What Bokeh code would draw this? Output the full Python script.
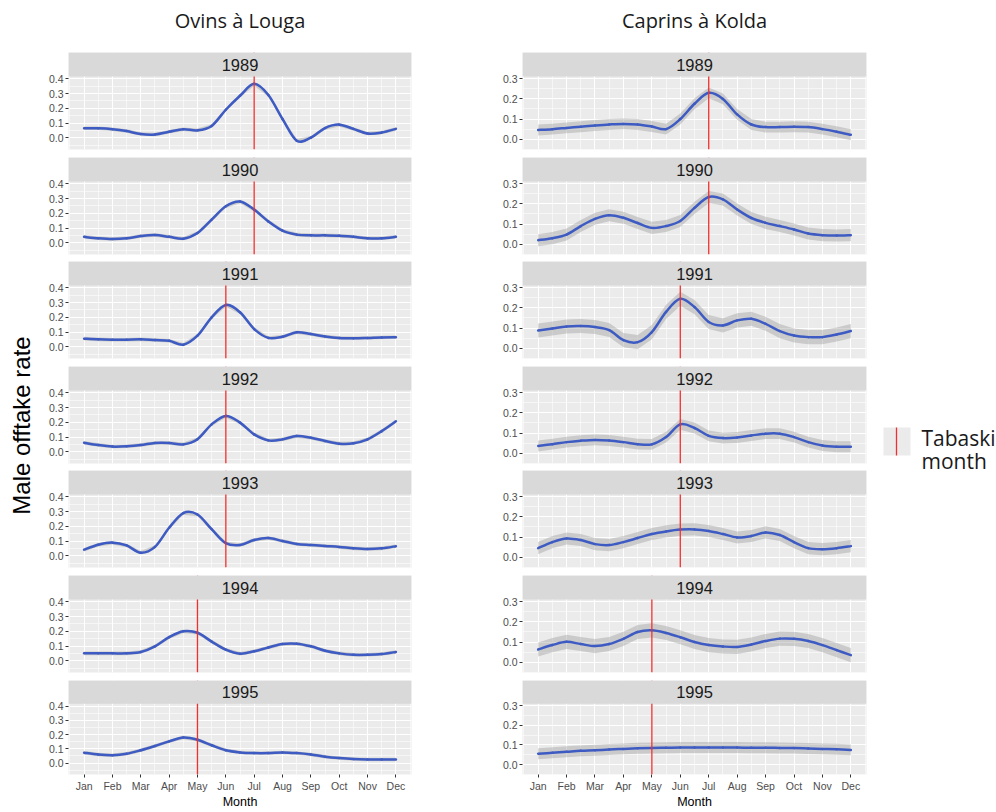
import math
from bokeh.plotting import figure
from bokeh.layouts import row, column
from bokeh.models import Range1d, FixedTicker, PrintfTickFormatter, Span, BoxAnnotation, Label
from bokeh.embed import file_html
from bokeh.resources import INLINE
from bokeh.core.properties import value

# ---------------- data ----------------
months_x = [1, 1.5, 2, 2.5, 3, 3.5, 4, 4.5, 5, 5.5, 6, 6.5, 7, 7.5, 8, 8.5, 9, 9.5, 10, 10.5, 11, 11.5, 12]
month_ticks = [1, 2, 3, 4, 5, 6, 7, 8, 9, 10, 11, 12]
month_labels = ["Jan", "Feb", "Mar", "Apr", "May", "Jun", "Jul", "Aug", "Sep", "Oct", "Nov", "Dec"]
years = ["1989", "1990", "1991", "1992", "1993", "1994", "1995"]
tabaski_month = [7, 7, 6, 6, 6, 5, 5]

louga_1989 = [0.065, 0.064, 0.058, 0.045, 0.025, 0.022, 0.040, 0.058, 0.050, 0.080, 0.190, 0.285, 0.366, 0.290, 0.127, -0.020, 0.000, 0.066, 0.089, 0.060, 0.028, 0.035, 0.060]
louga_1990 = [0.040, 0.030, 0.025, 0.030, 0.045, 0.052, 0.040, 0.027, 0.066, 0.157, 0.248, 0.280, 0.225, 0.145, 0.082, 0.055, 0.050, 0.050, 0.048, 0.040, 0.030, 0.030, 0.040]
louga_1991 = [0.055, 0.050, 0.048, 0.048, 0.050, 0.045, 0.040, 0.014, 0.075, 0.200, 0.284, 0.234, 0.120, 0.060, 0.068, 0.098, 0.086, 0.070, 0.060, 0.058, 0.060, 0.063, 0.064]
louga_1992 = [0.061, 0.045, 0.035, 0.037, 0.045, 0.060, 0.060, 0.050, 0.085, 0.186, 0.243, 0.198, 0.118, 0.077, 0.084, 0.107, 0.095, 0.073, 0.055, 0.057, 0.084, 0.140, 0.207]
louga_1993 = [0.041, 0.075, 0.089, 0.070, 0.020, 0.060, 0.190, 0.290, 0.280, 0.180, 0.085, 0.073, 0.107, 0.120, 0.100, 0.080, 0.073, 0.066, 0.060, 0.050, 0.045, 0.050, 0.065]
louga_1994 = [0.050, 0.050, 0.050, 0.050, 0.059, 0.098, 0.160, 0.200, 0.190, 0.130, 0.075, 0.048, 0.064, 0.090, 0.114, 0.116, 0.098, 0.068, 0.050, 0.040, 0.040, 0.045, 0.060]
louga_1995 = [0.073, 0.060, 0.055, 0.065, 0.090, 0.120, 0.152, 0.180, 0.164, 0.125, 0.090, 0.075, 0.070, 0.070, 0.075, 0.070, 0.060, 0.045, 0.035, 0.028, 0.025, 0.025, 0.025]

kolda_1989 = [0.046, 0.050, 0.056, 0.062, 0.068, 0.073, 0.076, 0.073, 0.063, 0.050, 0.100, 0.176, 0.230, 0.200, 0.123, 0.073, 0.060, 0.060, 0.062, 0.060, 0.050, 0.037, 0.022]
kolda_1990 = [0.020, 0.030, 0.048, 0.090, 0.126, 0.144, 0.131, 0.105, 0.081, 0.090, 0.115, 0.180, 0.234, 0.222, 0.172, 0.130, 0.106, 0.090, 0.073, 0.053, 0.045, 0.043, 0.045]
kolda_1991 = [0.088, 0.098, 0.108, 0.110, 0.105, 0.090, 0.040, 0.030, 0.080, 0.180, 0.245, 0.204, 0.130, 0.113, 0.138, 0.146, 0.121, 0.085, 0.063, 0.055, 0.055, 0.068, 0.085]
kolda_1992 = [0.036, 0.045, 0.055, 0.062, 0.066, 0.063, 0.055, 0.045, 0.044, 0.080, 0.143, 0.125, 0.086, 0.075, 0.078, 0.088, 0.097, 0.097, 0.080, 0.055, 0.038, 0.032, 0.032]
kolda_1993 = [0.045, 0.075, 0.093, 0.085, 0.065, 0.060, 0.075, 0.095, 0.115, 0.128, 0.137, 0.138, 0.130, 0.115, 0.098, 0.105, 0.123, 0.110, 0.075, 0.045, 0.040, 0.045, 0.055]
kolda_1994 = [0.063, 0.085, 0.101, 0.090, 0.080, 0.090, 0.116, 0.150, 0.158, 0.145, 0.124, 0.100, 0.085, 0.078, 0.076, 0.088, 0.105, 0.117, 0.116, 0.105, 0.085, 0.060, 0.035]
kolda_1995 = [0.055, 0.060, 0.065, 0.070, 0.073, 0.077, 0.080, 0.083, 0.085, 0.086, 0.087, 0.087, 0.087, 0.087, 0.087, 0.086, 0.086, 0.085, 0.084, 0.082, 0.080, 0.078, 0.075]

louga_band = [0.012, 0.012, 0.012, 0.012, 0.012, 0.012, 0.012]
kolda_band = [0.027, 0.030, 0.035, 0.027, 0.030, 0.035, 0.028]

louga_series = [louga_1989, louga_1990, louga_1991, louga_1992, louga_1993, louga_1994, louga_1995]
kolda_series = [kolda_1989, kolda_1990, kolda_1991, kolda_1992, kolda_1993, kolda_1994, kolda_1995]

louga_yticks = [0.0, 0.1, 0.2, 0.3, 0.4]
louga_yminor = [-0.05, 0.05, 0.15, 0.25, 0.35]
kolda_yticks = [0.0, 0.1, 0.2, 0.3]
kolda_yminor = [-0.05, 0.05, 0.15, 0.25]

# ---------------- style / layout ----------------
PANEL_BG = "#EBEBEB"
STRIP_BG = "#D9D9D9"
LINE_C = "#3D5BC2"
RED = "#F0302E"
TICK_FONT = "10.5px"
FONT = "Liberation Sans"
FRAME_H = 73
STRIP_H = 24
TOP0 = 52
PERIOD = 104.6
tops = [round(TOP0 + i * PERIOD) for i in range(7)]
BOTTOM_H = 34


def base_fig(w, h, xr, yr, ml, mr, mt, mb, bg):
    p = figure(width=w, height=h, x_range=xr, y_range=yr, output_backend="svg",
               toolbar_location=None, min_border_left=ml, min_border_right=mr,
               min_border_top=mt, min_border_bottom=mb,
               background_fill_color=bg, border_fill_color="white",
               outline_line_color=None, x_axis_location=None, y_axis_location=None)
    p.grid.visible = False
    return p


def title_fig(text, w, ml, mr, h):
    p = base_fig(w, h, Range1d(0, 1), Range1d(0, 1), ml, mr, 0, 0, "white")
    p.text(x=[0.5], y=[1 - 20.0 / h], text=[text], text_align="center", text_baseline="middle",
           text_font=value("Open Sans"), text_font_size="20px", text_color="#1A1A1A")
    return p


def smooth_segments(xs, ys):
    # Catmull-Rom curve through the read points, drawn as cubic Bezier pieces
    n = len(xs)
    x0, y0, x1, y1, cx0, cy0, cx1, cy1 = [], [], [], [], [], [], [], []
    for i in range(n - 1):
        xm, ym = (xs[i - 1], ys[i - 1]) if i > 0 else (xs[i], ys[i])
        xp, yp = (xs[i + 2], ys[i + 2]) if i + 2 < n else (xs[i + 1], ys[i + 1])
        x0.append(xs[i]); y0.append(ys[i]); x1.append(xs[i + 1]); y1.append(ys[i + 1])
        cx0.append(xs[i] + (xs[i + 1] - xm) / 6.0); cy0.append(ys[i] + (ys[i + 1] - ym) / 6.0)
        cx1.append(xs[i + 1] - (xp - xs[i]) / 6.0); cy1.append(ys[i + 1] - (yp - ys[i]) / 6.0)
    return dict(x0=x0, y0=y0, x1=x1, y1=y1, cx0=cx0, cy0=cy0, cx1=cx1, cy1=cy1)


def panel_fig(year, vals, band, tab, yr, yticks, yminor, w, ml, mr, h, bottom):
    y0, y1 = yr
    ytop = y1 + (y1 - y0) * STRIP_H / FRAME_H   # strip sits on top of the data frame
    mb = h - FRAME_H - STRIP_H
    p = figure(width=w, height=h, x_range=Range1d(0.45, 12.55), y_range=Range1d(y0, ytop),
               output_backend="svg", toolbar_location=None,
               min_border_left=ml, min_border_right=mr, min_border_top=0, min_border_bottom=mb,
               background_fill_color=PANEL_BG, border_fill_color="white", outline_line_color=None,
               x_axis_location=("below" if bottom else None))
    p.xgrid.ticker = FixedTicker(ticks=month_ticks, minor_ticks=[m + 0.5 for m in [0] + month_ticks])
    p.ygrid.ticker = FixedTicker(ticks=yticks, minor_ticks=yminor)
    for g in (p.xgrid, p.ygrid):
        g.grid_line_color = "white"
        g.grid_line_width = 1.1
        g.minor_grid_line_color = "white"
        g.minor_grid_line_width = 0.55
    ya = p.yaxis[0]
    ya.ticker = FixedTicker(ticks=yticks, minor_ticks=[])
    ya.formatter = PrintfTickFormatter(format="%.1f")
    ya.axis_line_color = None
    ya.major_tick_line_color = "#333333"
    ya.major_tick_out = 3
    ya.major_tick_in = 0
    ya.minor_tick_line_color = None
    ya.major_label_text_font_size = TICK_FONT
    ya.major_label_text_color = "#4D4D4D"
    ya.major_label_text_font = FONT
    ya.major_label_standoff = 2
    if bottom:
        xa = p.xaxis[0]
        xa.ticker = FixedTicker(ticks=month_ticks, minor_ticks=[])
        xa.major_label_overrides = {m: lab for m, lab in zip(month_ticks, month_labels)}
        xa.axis_line_color = None
        xa.major_tick_line_color = "#333333"
        xa.major_tick_out = 3
        xa.major_tick_in = 0
        xa.minor_tick_line_color = None
        xa.major_label_text_font_size = TICK_FONT
        xa.major_label_text_color = "#4D4D4D"
        xa.major_label_text_font = FONT
        xa.major_label_standoff = 2
        xa.axis_label = "Month"
        xa.axis_label_text_font = FONT
        xa.axis_label_text_font_size = "12.5px"
        xa.axis_label_text_font_style = "normal"
        xa.axis_label_text_color = "#000000"
        xa.axis_label_standoff = 0
    lower = [v - band for v in vals]
    upper = [v + band for v in vals]
    p.varea(x=months_x, y1=lower, y2=upper, fill_color="#999999", fill_alpha=0.4)
    p.bezier(line_color=LINE_C, line_width=2.5, line_cap="round", **smooth_segments(months_x, vals))
    p.add_layout(Span(location=tab, dimension="height", line_color=RED, line_width=1.3))
    # facet strip
    p.add_layout(BoxAnnotation(bottom=y1, fill_color=STRIP_BG, fill_alpha=1.0, line_color=None))
    p.add_layout(Label(x=6.5, y=(y1 + ytop) / 2, text=year, text_align="center",
                       text_baseline="middle", text_font=FONT, text_font_size="16.5px",
                       text_color="#1A1A1A"))
    return p


def build_column(title, series, bands, yr, yticks, yminor, w, ml, mr):
    items = [title_fig(title, w, ml, mr, TOP0)]
    for i in range(7):
        if i < 6:
            h = tops[i + 1] - tops[i]
            bottom = False
        else:
            h = STRIP_H + FRAME_H + BOTTOM_H
            bottom = True
        items.append(panel_fig(years[i], series[i], bands[i], tabaski_month[i], yr, yticks, yminor,
                               w, ml, mr, h, bottom))
    return column(*items, spacing=0)


total_h = tops[6] + STRIP_H + FRAME_H + BOTTOM_H

# y label figure
lab = base_fig(40, total_h, Range1d(0, 1), Range1d(0, 1), 0, 0, 0, 0, "white")
lab.text(x=[0.52], y=[1 - 425.0 / total_h], text=["Male offtake rate"], angle=math.pi / 2,
         text_align="center", text_baseline="middle", text_font=value(FONT),
         text_font_size="24px", text_color="#000000")

left_col = build_column("Ovins à Louga", louga_series, louga_band, (-0.08, 0.416),
                        louga_yticks, louga_yminor, 411, 28, 40)
right_col = build_column("Caprins à Kolda", kolda_series, kolda_band, (-0.051, 0.311),
                         kolda_yticks, kolda_yminor, 419, 71, 4)

# legend figure (pixel-like coordinates, y downward)
leg = base_fig(126, total_h, Range1d(0, 126), Range1d(total_h, 0), 0, 0, 0, 0, "white")
leg.rect(x=[26.5], y=[441], width=[27], height=[28], fill_color=PANEL_BG, line_color=None)
leg.segment(x0=[26], y0=[427], x1=[26], y1=[455], line_color=RED, line_width=1.3)
leg.text(x=[51, 51], y=[437, 460], text=["Tabaski", "month"], text_align="left",
         text_baseline="alphabetic", text_font=value("Open Sans"), text_font_size="21px",
         text_color="#1A1A1A")

layout = row(lab, left_col, right_col, leg, spacing=0)

with open("out.html", "w") as f:
    f.write(file_html(layout, INLINE, title="Male offtake rate"))
